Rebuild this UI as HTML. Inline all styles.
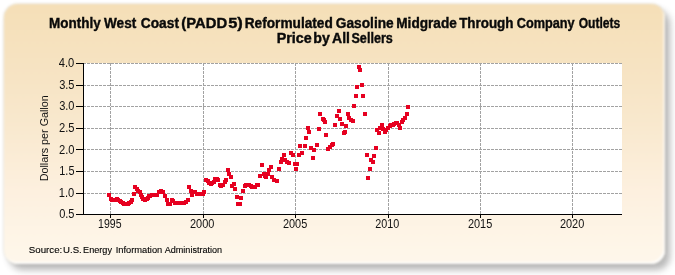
<!DOCTYPE html>
<html><head><meta charset="utf-8"><style>
html,body{margin:0;padding:0;background:#fff;width:675px;height:275px;overflow:hidden}
#panel{position:absolute;left:4px;top:4px;width:661px;height:260px;border-radius:14px;
background:linear-gradient(to bottom,#F5DFB7 0%,#F7E4C4 28%,#F9E9CF 48%,#FDF0DF 72%,#FEF5E7 90%,#FEF7EB 100%);
box-shadow:5px 6px 6px rgba(80,80,80,0.40), 0 0 1.5px rgba(110,100,70,0.6), inset -1.5px -2px 1px rgba(255,255,255,0.9);
filter:blur(0.8px)}
svg{position:absolute;left:0;top:0;will-change:transform}
text{font-family:"Liberation Sans",sans-serif}
</style></head><body>
<div id="panel"></div>
<svg width="675" height="275" viewBox="0 0 675 275">
<rect x="83" y="63" width="539" height="151" fill="#fff"/>
<g stroke="#a2a2a2" stroke-width="1" stroke-dasharray="3,1" fill="none"><line x1="83" y1="63.5" x2="622" y2="63.5"/><line x1="83" y1="85.5" x2="622" y2="85.5"/><line x1="83" y1="106.5" x2="622" y2="106.5"/><line x1="83" y1="128.5" x2="622" y2="128.5"/><line x1="83" y1="149.5" x2="622" y2="149.5"/><line x1="83" y1="171.5" x2="622" y2="171.5"/><line x1="83" y1="193.5" x2="622" y2="193.5"/><line x1="110.5" y1="63" x2="110.5" y2="214"/><line x1="203.5" y1="63" x2="203.5" y2="214"/><line x1="295.5" y1="63" x2="295.5" y2="214"/><line x1="388.5" y1="63" x2="388.5" y2="214"/><line x1="480.5" y1="63" x2="480.5" y2="214"/><line x1="572.5" y1="63" x2="572.5" y2="214"/></g>
<g fill="#e60020" stroke="none" shape-rendering="crispEdges" style="filter:blur(0.35px)"><rect x="106.90" y="193.40" width="4" height="4"/><rect x="108.50" y="196.50" width="4" height="4"/><rect x="110.00" y="198.00" width="4" height="4"/><rect x="111.60" y="198.00" width="4" height="4"/><rect x="113.10" y="197.50" width="4" height="4"/><rect x="114.60" y="197.00" width="4" height="4"/><rect x="116.20" y="197.50" width="4" height="4"/><rect x="117.70" y="198.50" width="4" height="4"/><rect x="119.30" y="199.80" width="4" height="4"/><rect x="120.80" y="201.00" width="4" height="4"/><rect x="122.40" y="201.50" width="4" height="4"/><rect x="123.90" y="201.50" width="4" height="4"/><rect x="125.50" y="201.50" width="4" height="4"/><rect x="127.00" y="201.00" width="4" height="4"/><rect x="128.60" y="199.50" width="4" height="4"/><rect x="130.10" y="197.50" width="4" height="4"/><rect x="131.70" y="191.70" width="4" height="4"/><rect x="133.20" y="185.40" width="4" height="4"/><rect x="134.80" y="186.50" width="4" height="4"/><rect x="136.30" y="189.00" width="4" height="4"/><rect x="137.50" y="190.40" width="4" height="4"/><rect x="138.80" y="192.70" width="4" height="4"/><rect x="140.10" y="195.00" width="4" height="4"/><rect x="141.40" y="196.50" width="4" height="4"/><rect x="142.70" y="198.00" width="4" height="4"/><rect x="144.50" y="197.00" width="4" height="4"/><rect x="145.80" y="195.65" width="4" height="4"/><rect x="147.10" y="194.30" width="4" height="4"/><rect x="148.40" y="193.55" width="4" height="4"/><rect x="149.70" y="192.80" width="4" height="4"/><rect x="151.00" y="192.80" width="4" height="4"/><rect x="152.30" y="192.80" width="4" height="4"/><rect x="153.60" y="192.65" width="4" height="4"/><rect x="154.90" y="192.50" width="4" height="4"/><rect x="156.60" y="189.50" width="4" height="4"/><rect x="159.00" y="189.20" width="4" height="4"/><rect x="161.40" y="189.50" width="4" height="4"/><rect x="162.70" y="193.50" width="4" height="4"/><rect x="164.90" y="197.60" width="4" height="4"/><rect x="166.40" y="201.50" width="4" height="4"/><rect x="168.00" y="201.50" width="4" height="4"/><rect x="169.80" y="198.00" width="4" height="4"/><rect x="171.40" y="199.00" width="4" height="4"/><rect x="173.00" y="200.50" width="4" height="4"/><rect x="174.80" y="201.00" width="4" height="4"/><rect x="176.60" y="201.00" width="4" height="4"/><rect x="178.40" y="201.20" width="4" height="4"/><rect x="180.20" y="201.00" width="4" height="4"/><rect x="182.00" y="201.00" width="4" height="4"/><rect x="183.80" y="200.30" width="4" height="4"/><rect x="185.50" y="197.80" width="4" height="4"/><rect x="187.00" y="184.90" width="4" height="4"/><rect x="188.50" y="188.50" width="4" height="4"/><rect x="190.10" y="193.20" width="4" height="4"/><rect x="191.60" y="189.50" width="4" height="4"/><rect x="193.20" y="190.20" width="4" height="4"/><rect x="194.70" y="191.50" width="4" height="4"/><rect x="196.30" y="192.00" width="4" height="4"/><rect x="197.80" y="192.00" width="4" height="4"/><rect x="199.40" y="192.00" width="4" height="4"/><rect x="200.90" y="191.50" width="4" height="4"/><rect x="202.40" y="189.80" width="4" height="4"/><rect x="204.00" y="178.20" width="4" height="4"/><rect x="205.50" y="179.00" width="4" height="4"/><rect x="207.10" y="181.20" width="4" height="4"/><rect x="208.60" y="181.50" width="4" height="4"/><rect x="210.10" y="181.00" width="4" height="4"/><rect x="211.70" y="180.00" width="4" height="4"/><rect x="213.20" y="176.50" width="4" height="4"/><rect x="214.80" y="176.50" width="4" height="4"/><rect x="216.30" y="178.00" width="4" height="4"/><rect x="217.90" y="182.50" width="4" height="4"/><rect x="219.40" y="183.50" width="4" height="4"/><rect x="221.00" y="182.50" width="4" height="4"/><rect x="222.50" y="180.00" width="4" height="4"/><rect x="224.00" y="178.00" width="4" height="4"/><rect x="225.60" y="168.20" width="4" height="4"/><rect x="227.20" y="171.65" width="4" height="4"/><rect x="228.80" y="175.10" width="4" height="4"/><rect x="230.20" y="183.50" width="4" height="4"/><rect x="231.70" y="182.00" width="4" height="4"/><rect x="233.30" y="187.30" width="4" height="4"/><rect x="234.80" y="194.50" width="4" height="4"/><rect x="236.30" y="201.80" width="4" height="4"/><rect x="237.90" y="202.00" width="4" height="4"/><rect x="239.40" y="196.00" width="4" height="4"/><rect x="241.00" y="188.80" width="4" height="4"/><rect x="242.50" y="183.50" width="4" height="4"/><rect x="244.10" y="183.00" width="4" height="4"/><rect x="245.60" y="182.50" width="4" height="4"/><rect x="247.20" y="183.00" width="4" height="4"/><rect x="248.70" y="184.00" width="4" height="4"/><rect x="250.30" y="185.00" width="4" height="4"/><rect x="251.80" y="185.00" width="4" height="4"/><rect x="253.30" y="184.50" width="4" height="4"/><rect x="254.90" y="183.00" width="4" height="4"/><rect x="256.40" y="182.50" width="4" height="4"/><rect x="258.00" y="173.80" width="4" height="4"/><rect x="259.80" y="162.70" width="4" height="4"/><rect x="261.50" y="171.50" width="4" height="4"/><rect x="263.00" y="173.50" width="4" height="4"/><rect x="264.30" y="175.00" width="4" height="4"/><rect x="265.65" y="171.60" width="4" height="4"/><rect x="267.00" y="168.20" width="4" height="4"/><rect x="268.80" y="164.50" width="4" height="4"/><rect x="270.00" y="174.60" width="4" height="4"/><rect x="272.40" y="177.50" width="4" height="4"/><rect x="274.60" y="178.50" width="4" height="4"/><rect x="277.00" y="166.70" width="4" height="4"/><rect x="278.50" y="159.50" width="4" height="4"/><rect x="280.00" y="156.50" width="4" height="4"/><rect x="281.60" y="152.80" width="4" height="4"/><rect x="283.20" y="158.00" width="4" height="4"/><rect x="284.80" y="160.00" width="4" height="4"/><rect x="286.50" y="161.30" width="4" height="4"/><rect x="289.00" y="151.00" width="4" height="4"/><rect x="291.20" y="153.00" width="4" height="4"/><rect x="292.60" y="162.00" width="4" height="4"/><rect x="294.00" y="166.70" width="4" height="4"/><rect x="295.40" y="162.00" width="4" height="4"/><rect x="297.00" y="152.50" width="4" height="4"/><rect x="297.90" y="143.80" width="4" height="4"/><rect x="300.40" y="151.00" width="4" height="4"/><rect x="302.80" y="144.10" width="4" height="4"/><rect x="303.70" y="135.90" width="4" height="4"/><rect x="305.80" y="126.10" width="4" height="4"/><rect x="307.10" y="130.00" width="4" height="4"/><rect x="308.90" y="145.50" width="4" height="4"/><rect x="310.60" y="155.90" width="4" height="4"/><rect x="312.00" y="148.30" width="4" height="4"/><rect x="314.50" y="143.00" width="4" height="4"/><rect x="316.60" y="126.60" width="4" height="4"/><rect x="318.10" y="112.00" width="4" height="4"/><rect x="320.50" y="117.30" width="4" height="4"/><rect x="321.90" y="117.80" width="4" height="4"/><rect x="323.20" y="120.00" width="4" height="4"/><rect x="324.30" y="133.00" width="4" height="4"/><rect x="326.20" y="146.50" width="4" height="4"/><rect x="327.90" y="144.50" width="4" height="4"/><rect x="329.50" y="143.00" width="4" height="4"/><rect x="331.00" y="141.50" width="4" height="4"/><rect x="333.20" y="123.40" width="4" height="4"/><rect x="335.10" y="113.80" width="4" height="4"/><rect x="336.70" y="109.00" width="4" height="4"/><rect x="338.20" y="117.30" width="4" height="4"/><rect x="340.00" y="121.50" width="4" height="4"/><rect x="341.50" y="130.80" width="4" height="4"/><rect x="342.90" y="129.50" width="4" height="4"/><rect x="344.30" y="123.60" width="4" height="4"/><rect x="345.90" y="112.20" width="4" height="4"/><rect x="347.40" y="116.00" width="4" height="4"/><rect x="349.00" y="118.00" width="4" height="4"/><rect x="350.50" y="118.60" width="4" height="4"/><rect x="352.10" y="104.10" width="4" height="4"/><rect x="353.60" y="93.90" width="4" height="4"/><rect x="355.10" y="84.60" width="4" height="4"/><rect x="356.70" y="65.10" width="4" height="4"/><rect x="358.20" y="67.80" width="4" height="4"/><rect x="359.80" y="82.80" width="4" height="4"/><rect x="361.30" y="93.90" width="4" height="4"/><rect x="362.90" y="112.10" width="4" height="4"/><rect x="364.60" y="152.70" width="4" height="4"/><rect x="366.00" y="176.00" width="4" height="4"/><rect x="367.70" y="167.00" width="4" height="4"/><rect x="369.10" y="158.00" width="4" height="4"/><rect x="370.60" y="159.80" width="4" height="4"/><rect x="372.10" y="153.90" width="4" height="4"/><rect x="373.70" y="145.90" width="4" height="4"/><rect x="375.20" y="127.90" width="4" height="4"/><rect x="376.70" y="130.50" width="4" height="4"/><rect x="378.30" y="126.00" width="4" height="4"/><rect x="379.80" y="123.10" width="4" height="4"/><rect x="381.40" y="126.60" width="4" height="4"/><rect x="382.90" y="129.60" width="4" height="4"/><rect x="384.40" y="128.00" width="4" height="4"/><rect x="386.00" y="126.10" width="4" height="4"/><rect x="387.50" y="124.00" width="4" height="4"/><rect x="389.10" y="123.00" width="4" height="4"/><rect x="390.60" y="122.50" width="4" height="4"/><rect x="392.20" y="121.80" width="4" height="4"/><rect x="393.70" y="121.40" width="4" height="4"/><rect x="395.20" y="121.00" width="4" height="4"/><rect x="396.80" y="123.00" width="4" height="4"/><rect x="398.30" y="125.60" width="4" height="4"/><rect x="399.90" y="119.70" width="4" height="4"/><rect x="401.40" y="118.00" width="4" height="4"/><rect x="402.90" y="116.00" width="4" height="4"/><rect x="404.50" y="111.60" width="4" height="4"/><rect x="406.00" y="104.80" width="4" height="4"/></g>
<g stroke="#000" stroke-width="1" fill="none" shape-rendering="crispEdges">
<line x1="83.5" y1="63" x2="83.5" y2="215"/>
<line x1="76" y1="214.5" x2="622" y2="214.5"/>
<line x1="76" y1="63.5" x2="83" y2="63.5"/><line x1="76" y1="85.5" x2="83" y2="85.5"/><line x1="76" y1="106.5" x2="83" y2="106.5"/><line x1="76" y1="128.5" x2="83" y2="128.5"/><line x1="76" y1="149.5" x2="83" y2="149.5"/><line x1="76" y1="171.5" x2="83" y2="171.5"/><line x1="76" y1="193.5" x2="83" y2="193.5"/><line x1="76" y1="214.5" x2="83" y2="214.5"/><line x1="110.5" y1="214" x2="110.5" y2="218"/><line x1="203.5" y1="214" x2="203.5" y2="218"/><line x1="295.5" y1="214" x2="295.5" y2="218"/><line x1="388.5" y1="214" x2="388.5" y2="218"/><line x1="480.5" y1="214" x2="480.5" y2="218"/><line x1="572.5" y1="214" x2="572.5" y2="218"/>
</g>
<g font-size="12" fill="#111"><text transform="translate(58.67,66.5) scale(0.931,1)">4.0</text><text transform="translate(59.14,88.6) scale(0.921,1)">3.5</text><text transform="translate(59.14,109.9) scale(0.921,1)">3.0</text><text transform="translate(58.93,131.9) scale(0.933,1)">2.5</text><text transform="translate(58.93,153.5) scale(0.933,1)">2.0</text><text transform="translate(59.29,174.9) scale(0.911,1)">1.5</text><text transform="translate(58.77,196.5) scale(0.931,1)">1.0</text><text transform="translate(59.14,218.3) scale(0.921,1)">0.5</text><text transform="translate(98.12,227.8) scale(0.879,1)">1995</text><text transform="translate(190.04,227.8) scale(0.913,1)">2000</text><text transform="translate(282.94,227.8) scale(0.913,1)">2005</text><text transform="translate(375.35,227.8) scale(0.901,1)">2010</text><text transform="translate(467.94,227.8) scale(0.913,1)">2015</text><text transform="translate(559.94,227.8) scale(0.913,1)">2020</text></g>
<g font-weight="bold" font-size="14.5" fill="#0a0a0a" stroke="#0a0a0a" stroke-width="0.4"><text transform="translate(48.97,28.3) scale(0.930,1)">Monthly</text><text transform="translate(104.00,28.3) scale(0.937,1)">West</text><text transform="translate(140.83,28.3) scale(0.947,1)">Coast</text><text transform="translate(181.33,28.3) scale(1.021,1)">(PADD</text><text transform="translate(228.13,28.3) scale(1.132,1)">5)</text><text transform="translate(244.76,28.3) scale(0.942,1)">Reformulated</text><text transform="translate(335.83,28.3) scale(0.946,1)">Gasoline</text><text transform="translate(396.26,28.3) scale(0.941,1)">Midgrade</text><text transform="translate(459.17,28.3) scale(0.925,1)">Through</text><text transform="translate(516.76,28.3) scale(0.876,1)">Company</text><text transform="translate(578.68,28.3) scale(0.835,1)">Outlets</text><text transform="translate(276.71,42.8) scale(0.991,1)">Price</text><text transform="translate(313.32,42.8) scale(0.978,1)">by</text><text transform="translate(332.12,42.8) scale(0.965,1)">All</text><text transform="translate(351.47,42.8) scale(0.869,1)">Sellers</text></g>
<text transform="translate(47.6,138.3) rotate(-90)" text-anchor="middle" font-size="11.4" fill="#111" textLength="86" lengthAdjust="spacingAndGlyphs">Dollars per Gallon</text>
<g font-size="9.5" fill="#000" stroke="#000" stroke-width="0.12"><text transform="translate(28.79,253.1) scale(1.025,1)">Source:</text><text transform="translate(63.04,253.1) scale(1.015,1)">U.S.</text><text transform="translate(83.08,253.1) scale(0.961,1)">Energy</text><text transform="translate(115.66,253.1) scale(0.982,1)">Information</text><text transform="translate(164.70,253.1) scale(0.956,1)">Administration</text></g>
</svg>
</body></html>
